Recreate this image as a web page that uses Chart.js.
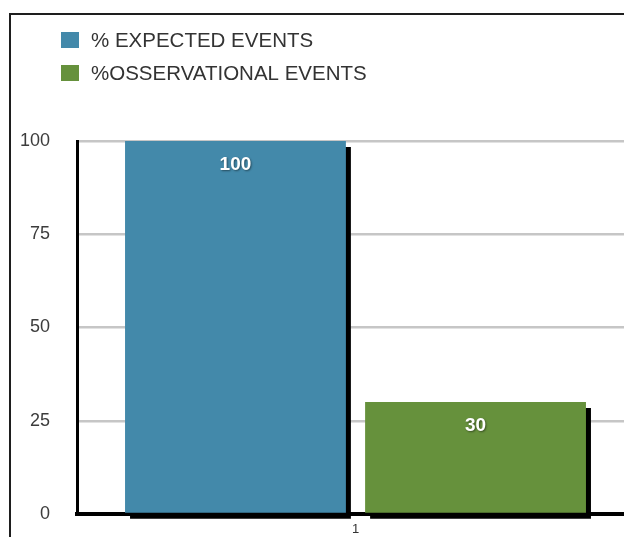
<!DOCTYPE html>
<html>
<head>
<meta charset="utf-8">
<script src="https://cdn.jsdelivr.net/npm/chart.js@4/dist/chart.umd.min.js"></script>
<style>
  html, body { margin: 0; padding: 0; background: #fff; overflow: hidden; }
  #wrap { width: 624px; height: 537px; overflow: hidden; position: relative; }
  canvas { display: block; }
</style>
</head>
<body>
<div id="wrap"><canvas id="chart" width="640" height="537"></canvas></div>
<script>
const categories = ['1'];
const seriesLabels = ['% EXPECTED EVENTS', '%OSSERVATIONAL EVENTS'];
const expectedValues = [100];
const observationalValues = [30];
const seriesColors = ['#4389aa', '#66913c'];

const FONT = '"Liberation Sans", Arial, sans-serif';

// black drop shadow behind each bar
const barShadow = {
    id: 'barShadow',
    beforeDatasetDraw(chart) {
        const ctx = chart.ctx;
        ctx.save();
        ctx.shadowColor = '#000';
        ctx.shadowBlur = 0;
        ctx.shadowOffsetX = 5;
        ctx.shadowOffsetY = 6;
    },
    afterDatasetDraw(chart) {
        chart.ctx.restore();
    }
};

// value written inside the top of each bar
const valueLabels = {
    id: 'valueLabels',
    afterDatasetsDraw(chart) {
        const ctx = chart.ctx;
        chart.data.datasets.forEach((ds, i) => {
            chart.getDatasetMeta(i).data.forEach((bar, j) => {
                ctx.save();
                ctx.font = 'bold 19px ' + FONT;
                ctx.fillStyle = '#fff';
                ctx.textAlign = 'center';
                ctx.textBaseline = 'middle';
                ctx.shadowColor = 'rgba(0,0,0,0.45)';
                ctx.shadowBlur = 2;
                ctx.shadowOffsetX = 1;
                ctx.shadowOffsetY = 1;
                ctx.fillText(String(ds.data[j]), bar.x, bar.y + 24);
                ctx.restore();
            });
        });
    }
};

// stacked legend in the top-left and the outer frame
const sideLegend = {
    id: 'sideLegend',
    afterDraw(chart) {
        const ctx = chart.ctx;
        ctx.save();
        chart.data.datasets.forEach((ds, i) => {
            const cy = 40 + i * 33;
            ctx.fillStyle = ds.backgroundColor;
            ctx.fillRect(61, cy - 8, 18, 16);
            ctx.font = '20.5px ' + FONT;
            ctx.fillStyle = '#333';
            ctx.textBaseline = 'middle';
            ctx.fillText(ds.label, 91, cy + 1);
        });
        ctx.strokeStyle = '#1e1e1e';
        ctx.lineWidth = 2;
        ctx.beginPath();
        ctx.moveTo(10, chart.height);
        ctx.lineTo(10, 14);
        ctx.lineTo(chart.width, 14);
        ctx.stroke();
        ctx.restore();
    }
};

new Chart(document.getElementById('chart'), {
    type: 'bar',
    data: {
        labels: categories,
        datasets: [
            { label: seriesLabels[0], data: expectedValues, backgroundColor: seriesColors[0], clip: false },
            { label: seriesLabels[1], data: observationalValues, backgroundColor: seriesColors[1], clip: false }
        ]
    },
    options: {
        responsive: false,
        animation: false,
        datasets: {
            bar: { categoryPercentage: 0.862, barPercentage: 0.92 }
        },
        layout: { padding: { top: 141, right: 6, bottom: 0, left: 0 } },
        plugins: {
            legend: { display: false },
            tooltip: { enabled: false }
        },
        scales: {
            x: {
                afterFit: s => { s.height = 23; },
                grid: { color: 'rgba(0,0,0,0)', drawTicks: false },
                border: { display: true, color: '#000', width: 4 },
                ticks: { color: '#333', font: { family: FONT, size: 13 }, padding: 8 }
            },
            y: {
                min: 0,
                max: 100,
                // big label gap would otherwise push the chart area up
                afterFit: s => { s.width = 77; s.paddingTop = 0; s.paddingBottom = 0; },
                grid: { color: '#c6c6c6', lineWidth: 2.5, drawTicks: false },
                border: { display: true, color: '#000', width: 3 },
                ticks: { stepSize: 25, color: '#3c3c3c', font: { family: FONT, size: 18 }, padding: 27 }
            }
        }
    },
    plugins: [barShadow, valueLabels, sideLegend]
});
</script>
</body>
</html>
